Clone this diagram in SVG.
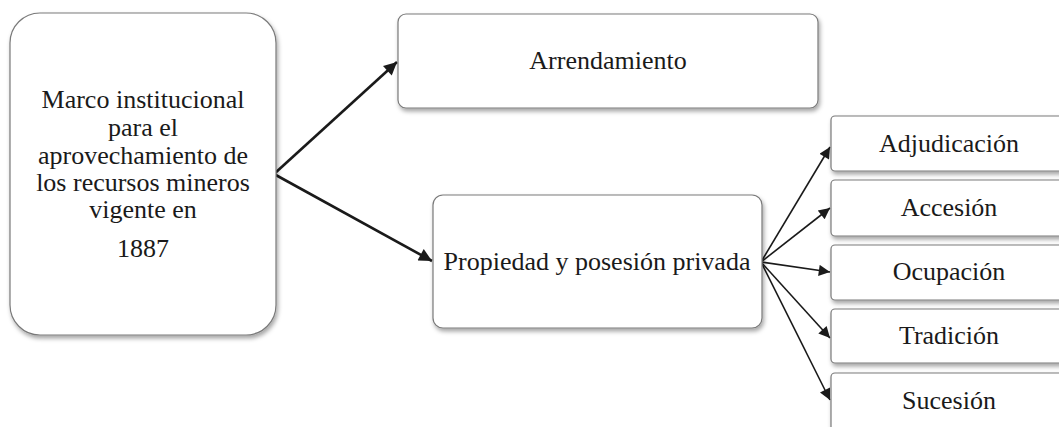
<svg xmlns="http://www.w3.org/2000/svg" width="1059" height="427" viewBox="0 0 1059 427">
<defs>
<filter id="sh" x="-10%" y="-10%" width="130%" height="130%">
<feDropShadow dx="1.5" dy="3" stdDeviation="2" flood-color="#000" flood-opacity="0.35"/>
</filter>
<marker id="ah" viewBox="0 0 10 10" refX="10" refY="5" markerWidth="6" markerHeight="5" orient="auto" markerUnits="strokeWidth">
<path d="M0,0 L10,5 L0,10 z" fill="#1a1a1a"/>
</marker>
<marker id="ahs" viewBox="0 0 10 10" refX="10" refY="5" markerWidth="8.5" markerHeight="7" orient="auto" markerUnits="strokeWidth">
<path d="M0,0 L10,5 L0,10 z" fill="#1a1a1a"/>
</marker>
</defs>
<style>
.box{fill:#fff;stroke:#7a7a7a;stroke-width:1.2;filter:url(#sh)}
.t{font-family:"Liberation Serif","Times New Roman",serif;font-size:26px;fill:#1a1a1a;text-anchor:middle}
.big{stroke:#1a1a1a;stroke-width:2.6;fill:none;marker-end:url(#ah)}
.sm{stroke:#1a1a1a;stroke-width:1.6;fill:none;marker-end:url(#ahs)}
</style>
<g id="connectors">
<line class="big" x1="274" y1="174" x2="397" y2="62"/>
<line class="big" x1="274" y1="174" x2="432" y2="261"/>
<line class="sm" x1="761" y1="262" x2="830" y2="147"/>
<line class="sm" x1="761" y1="262" x2="830" y2="208"/>
<line class="sm" x1="761" y1="262" x2="830" y2="272"/>
<line class="sm" x1="761" y1="262" x2="830" y2="338"/>
<line class="sm" x1="761" y1="262" x2="830" y2="400"/>
</g>
<g id="marco">
<rect class="box" x="10" y="13" width="266" height="322" rx="30"/>
<text class="t" x="143" y="108">Marco institucional</text>
<text class="t" x="143" y="136">para el</text>
<text class="t" x="143" y="164">aprovechamiento de</text>
<text class="t" x="143" y="191">los recursos mineros</text>
<text class="t" x="143" y="218">vigente en</text>
<text class="t" x="143" y="257">1887</text>
</g>
<g id="arrendamiento">
<rect class="box" x="398" y="14" width="420" height="94" rx="8"/>
<text class="t" x="608" y="69">Arrendamiento</text>
</g>
<g id="propiedad">
<rect class="box" x="433" y="195" width="329" height="133" rx="10"/>
<text class="t" x="597" y="270">Propiedad y posesión privada</text>
</g>
<g id="adjudicacion">
<rect class="box" x="831" y="116" width="240" height="55" rx="4"/>
<text class="t" x="949" y="152">Adjudicación</text>
</g>
<g id="accesion">
<rect class="box" x="831" y="180" width="240" height="56" rx="4"/>
<text class="t" x="949" y="216">Accesión</text>
</g>
<g id="ocupacion">
<rect class="box" x="831" y="245" width="240" height="55" rx="4"/>
<text class="t" x="949" y="280">Ocupación</text>
</g>
<g id="tradicion">
<rect class="box" x="831" y="309" width="240" height="54" rx="4"/>
<text class="t" x="949" y="344">Tradición</text>
</g>
<g id="sucesion">
<rect class="box" x="831" y="373" width="240" height="60" rx="4"/>
<text class="t" x="949" y="409">Sucesión</text>
</g>
</svg>
